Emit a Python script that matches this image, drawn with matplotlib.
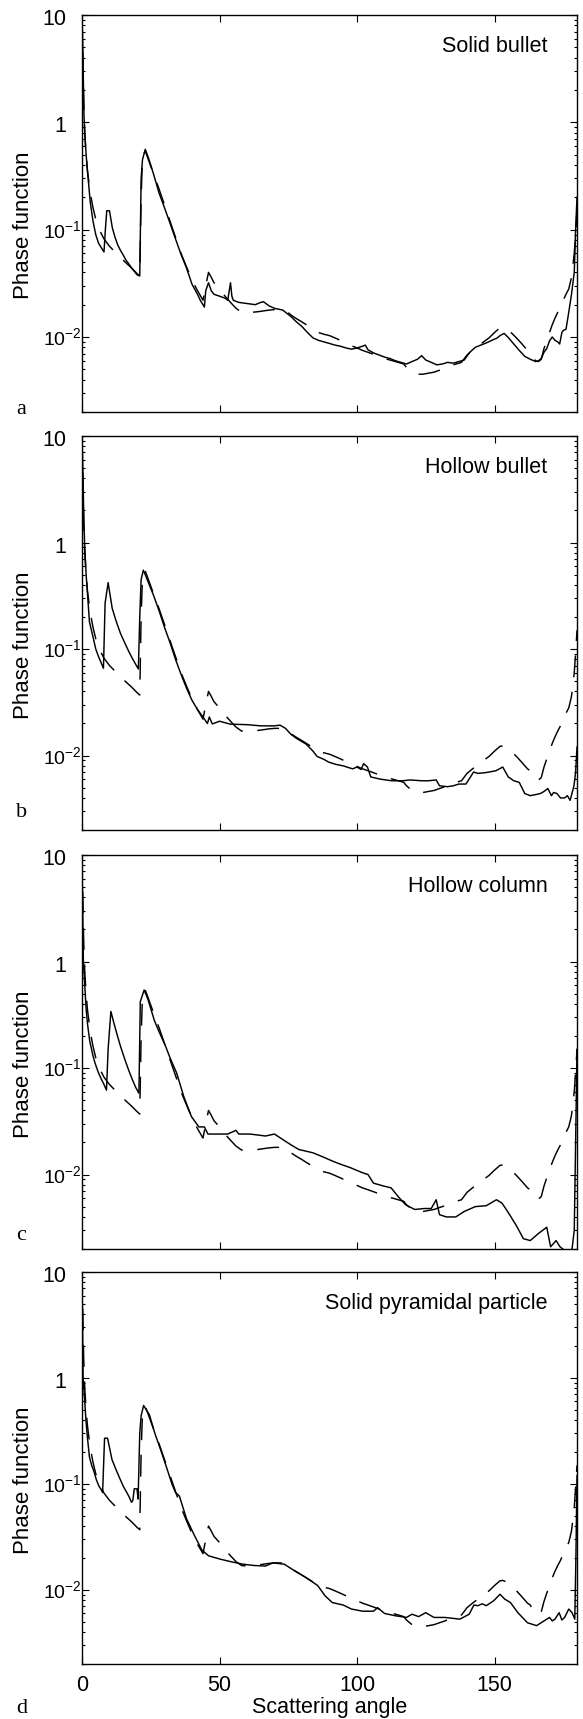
import matplotlib
matplotlib.use('Agg')
import matplotlib.pyplot as plt
from matplotlib.ticker import FixedLocator, FixedFormatter, LogLocator, NullFormatter
from matplotlib.transforms import offset_copy

plt.rcParams['font.family'] = ['Liberation Sans', 'DejaVu Sans']
plt.rcParams['mathtext.fontset'] = 'custom'
plt.rcParams['mathtext.rm'] = 'Liberation Sans'
plt.rcParams['mathtext.it'] = 'Liberation Sans:italic'

# ---------------- data ----------------
# dashed reference curve (same in all four panels)
angle_ref = [0, 0.3, 0.6, 1, 1.5, 2, 3, 4, 5, 6, 7, 8, 10, 12, 14, 16, 18, 20, 21, 21.5,
             22, 23, 24, 26, 28, 30, 32, 34, 36, 38, 40, 42, 44, 45, 46, 47, 48, 50, 52, 54,
             56, 58, 60, 62, 64, 66, 68, 70, 72, 74, 76, 78, 80, 82, 84, 86, 88, 90, 92, 94,
             96, 98, 100, 102, 104, 106, 108, 110, 112, 114, 116, 117, 118, 120, 122, 124, 126, 128, 130, 132,
             134, 136, 138, 140, 142, 144, 146, 148, 150, 152, 153, 154, 156, 158, 160, 162, 163, 164, 165, 166,
             167, 168, 169, 170, 171, 172, 173, 174, 175, 176, 177, 178, 179, 179.6, 180]
phase_ref = [10, 4, 1.6, 0.8, 0.5, 0.35, 0.22, 0.16, 0.125, 0.105, 0.092, 0.082, 0.07, 0.062, 0.055, 0.049, 0.044, 0.039, 0.037, 0.2,
             0.48, 0.54, 0.46, 0.33, 0.24, 0.17, 0.12, 0.085, 0.06, 0.045, 0.034, 0.027, 0.022, 0.03, 0.04, 0.036, 0.032, 0.028, 0.024, 0.021,
             0.0185, 0.017, 0.0168, 0.017, 0.0172, 0.0175, 0.0178, 0.018, 0.018, 0.0178, 0.016, 0.0148, 0.0138, 0.0128, 0.0119, 0.011, 0.0106, 0.0103, 0.0098, 0.0093,
             0.0088, 0.0083, 0.0079, 0.0075, 0.0072, 0.0069, 0.0066, 0.0063, 0.0061, 0.0059, 0.0057, 0.0056, 0.0052, 0.0047, 0.0045, 0.0045, 0.0046, 0.0047, 0.0049, 0.0051,
             0.0054, 0.0056, 0.0058, 0.0068, 0.0075, 0.0082, 0.009, 0.0098, 0.011, 0.0122, 0.0123, 0.012, 0.011, 0.0098, 0.0086, 0.0075, 0.0072, 0.0064, 0.006, 0.0059,
             0.0062, 0.0078, 0.0093, 0.011, 0.013, 0.015, 0.017, 0.019, 0.022, 0.025, 0.028, 0.036, 0.06, 0.1, 0.15]

# (a) solid bullet
angle_a = [0, 0.3, 0.7, 1, 1.5, 2, 3, 4, 5, 6, 7, 8, 8.5, 9, 10, 11, 12, 13, 14, 15,
           16, 17, 18, 19, 20, 21, 21.5, 22, 23, 24, 25, 26, 27, 28, 30, 32, 34, 36, 38, 40,
           42, 43, 44.5, 45, 46, 47, 48, 50, 52, 53, 54, 54.5, 55, 57, 60, 63, 65, 66, 68, 70,
           73, 76, 78, 80, 82, 84, 86, 88, 90, 92, 94, 96, 98, 100, 102, 103, 104, 106, 108, 110,
           112, 114, 116, 118, 120, 122, 123.5, 125, 127, 129, 131, 133, 135, 137, 139, 141, 143, 145, 147, 149,
           151, 152, 153.5, 155, 157, 159, 161, 163, 165, 166, 167, 168, 169, 170, 171, 172, 173, 173.7, 174.5, 175,
           176, 177, 178, 179, 179.5, 180]
phase_a = [10, 5, 1.2, 0.8, 0.5, 0.35, 0.18, 0.12, 0.09, 0.075, 0.068, 0.062, 0.1, 0.15, 0.15, 0.105, 0.085, 0.072, 0.064, 0.058,
           0.052, 0.048, 0.044, 0.041, 0.038, 0.037, 0.3, 0.45, 0.56, 0.48, 0.4, 0.33, 0.27, 0.22, 0.16, 0.115, 0.082, 0.059, 0.044, 0.031,
           0.025, 0.022, 0.019, 0.027, 0.032, 0.027, 0.025, 0.024, 0.023, 0.022, 0.032, 0.024, 0.022, 0.021, 0.0205, 0.02, 0.021, 0.0213, 0.0195, 0.0185,
           0.0178, 0.0155, 0.0138, 0.0125, 0.011, 0.0098, 0.0093, 0.009, 0.0087, 0.0084, 0.0082, 0.0079, 0.0077, 0.0079, 0.0082, 0.0084, 0.0076, 0.0071, 0.0068, 0.0065,
           0.0063, 0.006, 0.0058, 0.0056, 0.0059, 0.0062, 0.0067, 0.0061, 0.0058, 0.0055, 0.0056, 0.0058, 0.0057, 0.0059, 0.0061, 0.0072, 0.008, 0.0084, 0.0088, 0.0093,
           0.0098, 0.0103, 0.0108, 0.0099, 0.0086, 0.0075, 0.0066, 0.0062, 0.0059, 0.006, 0.0063, 0.0072, 0.0078, 0.0092, 0.01, 0.0093, 0.009, 0.0086, 0.011, 0.0115,
           0.0118, 0.017, 0.025, 0.04, 0.1, 0.2]

# (b) hollow bullet
angle_b = [0, 0.3, 0.7, 1, 1.5, 2, 2.7, 4, 5, 6, 7, 7.8, 8.4, 9.5, 11, 12.5, 14, 15.5, 17, 18.5,
           19.5, 20.5, 21, 21.5, 22.3, 23, 24, 26, 28, 30, 32, 34, 36, 38, 40, 42, 44, 45.6, 46.3, 47.4,
           50, 54, 60, 65, 70, 72, 74, 76, 78, 81.5, 84, 85.5, 88, 89.6, 92, 95, 98.4, 100, 101.5, 102.4,
           103.8, 105, 108.5, 112.6, 116.6, 119.4, 123.4, 126, 128.8, 130, 132.9, 135, 137, 139.6, 142.4, 144, 146.5, 148, 150.5, 153,
           155, 157, 159, 161, 163, 165, 166.7, 168, 169.4, 170.7, 171.5, 172.7, 174, 175.5, 176.5, 177.5, 178.9, 179.5, 180]
phase_b = [10, 5, 1.5, 0.9, 0.5, 0.33, 0.18, 0.13, 0.1, 0.085, 0.074, 0.066, 0.27, 0.42, 0.24, 0.18, 0.14, 0.115, 0.095, 0.08,
           0.072, 0.065, 0.2, 0.45, 0.55, 0.5, 0.43, 0.32, 0.23, 0.16, 0.115, 0.08, 0.058, 0.043, 0.033, 0.027, 0.023, 0.02, 0.023, 0.0198,
           0.021, 0.0197, 0.0195, 0.019, 0.019, 0.0193, 0.018, 0.0158, 0.0145, 0.0128, 0.011, 0.0098, 0.0092, 0.0087, 0.0083, 0.008, 0.0075, 0.0078, 0.0074, 0.0084,
           0.0078, 0.0063, 0.006, 0.0058, 0.0058, 0.0059, 0.0058, 0.0058, 0.0059, 0.0052, 0.0051, 0.0052, 0.0054, 0.0054, 0.007, 0.0068, 0.0069, 0.007, 0.0072, 0.0078,
           0.0063, 0.0058, 0.0056, 0.0044, 0.0042, 0.0043, 0.0044, 0.0046, 0.0049, 0.0042, 0.0045, 0.0044, 0.004, 0.004, 0.0042, 0.0038, 0.0052, 0.007, 0.012]

# (c) hollow column
angle_c = [0, 0.5, 1, 1.5, 2, 2.8, 4, 4.8, 6, 6.9, 8, 8.9, 9.5, 10.5, 11.5, 12.9, 14, 15.6, 17, 18.3,
           19.5, 20.7, 21.2, 22.6, 24, 26.3, 28, 30.4, 32, 34.4, 37, 39.8, 42.5, 44.5, 45.8, 49, 53, 56, 57, 61,
           64, 66.7, 70, 73.4, 76, 78.8, 84, 88, 91, 94, 97.6, 102, 104, 106, 109.7, 112.4, 115, 117.7, 121, 124.5,
           127, 128.8, 130, 132.5, 135.9, 139, 143, 147, 150.7, 152.7, 155, 158, 160.5, 163, 166, 169, 170.4, 172.4, 173.8, 176,
           178, 179, 179.5, 180]
phase_c = [10, 1, 0.6, 0.36, 0.26, 0.18, 0.13, 0.11, 0.09, 0.08, 0.07, 0.062, 0.15, 0.34, 0.27, 0.2, 0.16, 0.12, 0.095, 0.078,
           0.066, 0.058, 0.42, 0.54, 0.44, 0.28, 0.22, 0.16, 0.125, 0.09, 0.054, 0.035, 0.028, 0.028, 0.024, 0.024, 0.024, 0.026, 0.024, 0.024,
           0.0235, 0.023, 0.024, 0.021, 0.019, 0.0172, 0.016, 0.0145, 0.0134, 0.0125, 0.0116, 0.0104, 0.01, 0.0083, 0.0078, 0.0075, 0.0062, 0.0052, 0.0047, 0.0048,
           0.0048, 0.0058, 0.0042, 0.004, 0.004, 0.0045, 0.005, 0.0051, 0.0058, 0.0054, 0.0044, 0.0033, 0.0025, 0.0024, 0.0028, 0.0032, 0.0021, 0.0024, 0.0021, 0.0019,
           0.0018, 0.003, 0.02, 0.15]

# (d) solid pyramidal particle
angle_d = [0, 0.4, 1, 1.4, 2, 2.7, 3.5, 4.4, 5.2, 6.1, 7, 7.5, 8.2, 9.3, 10.9, 12.2, 13.6, 15, 16.3, 17.2,
           18, 18.5, 19, 20, 20.4, 21, 21.5, 22.4, 24.5, 26.5, 28.6, 30.5, 32.7, 34, 35.4, 38, 40.8, 43.5, 46, 50.3,
           54.4, 58.5, 62.6, 66.7, 69.4, 71, 73.5, 77.6, 81.6, 85.7, 88.4, 91, 95, 98, 102, 106, 107.5, 110, 114, 118,
           120, 122.4, 125, 128, 132, 137.4, 140.8, 142.5, 144, 145.5, 147, 149.7, 152, 153.7, 155.8, 158.5, 162, 165.3, 168, 170,
           171, 172, 173.5, 174.5, 175.5, 177, 178.2, 179.2, 179.6, 180]
phase_d = [10, 1, 0.6, 0.41, 0.27, 0.18, 0.15, 0.13, 0.11, 0.096, 0.088, 0.083, 0.27, 0.27, 0.17, 0.14, 0.115, 0.095, 0.083, 0.075,
           0.067, 0.07, 0.09, 0.09, 0.072, 0.3, 0.44, 0.55, 0.45, 0.3, 0.21, 0.15, 0.1, 0.083, 0.077, 0.047, 0.033, 0.024, 0.021, 0.0195,
           0.0184, 0.0175, 0.017, 0.0168, 0.018, 0.0178, 0.0175, 0.015, 0.013, 0.011, 0.0088, 0.0076, 0.0072, 0.0066, 0.0063, 0.0063, 0.0068, 0.006, 0.0057, 0.0055,
           0.0059, 0.0056, 0.0061, 0.0055, 0.0055, 0.0053, 0.0059, 0.0072, 0.0071, 0.0074, 0.0071, 0.0079, 0.0091, 0.0082, 0.0076, 0.0061, 0.0049, 0.0046, 0.0051, 0.0055,
           0.0051, 0.0053, 0.0061, 0.0052, 0.0055, 0.0066, 0.0061, 0.0053, 0.02, 0.12]

panel_titles = ['Solid bullet', 'Hollow bullet', 'Hollow column', 'Solid pyramidal particle']
panel_letters = ['a', 'b', 'c', 'd']
xtick_values = [0, 50, 100, 150]
xtick_labels = ['0', '50', '100', '150']
ytick_values = [0.01, 0.1, 1, 10]
ytick_labels = ['10$^{-2}$', '10$^{-1}$', '1', '10']

solid_angles = [angle_a, angle_b, angle_c, angle_d]
solid_phases = [phase_a, phase_b, phase_c, phase_d]

# ---------------- layout ----------------
W, H = 583, 1719
fig = plt.figure(figsize=(W / 100, H / 100), dpi=100)
left_px, right_px = 82, 577
panels_px = [(15, 412), (436, 830), (855, 1249), (1272, 1664)]
letter_base_px = [414, 817, 1240, 1713]
lab_right_px = 66   # right edge of plain labels ("10", "1")
lab_left_px = 43    # left edge of power labels

for i, (top, bot) in enumerate(panels_px):
    ax = fig.add_axes([left_px / W, 1 - bot / H, (right_px - left_px) / W, (bot - top) / H])
    ax.plot(angle_ref, phase_ref, color='black', lw=1.05, dashes=(15, 10))
    ax.plot(solid_angles[i], solid_phases[i], color='black', lw=1.05)
    ax.set_yscale('log')
    ax.set_xlim(0, 180)
    ax.set_ylim(0.002, 10)
    ax.yaxis.set_major_locator(FixedLocator(ytick_values))
    ax.yaxis.set_major_formatter(NullFormatter())
    ax.yaxis.set_minor_locator(LogLocator(base=10, subs=range(2, 10), numticks=20))
    ax.yaxis.set_minor_formatter(NullFormatter())
    ax.xaxis.set_major_locator(FixedLocator(xtick_values))
    ax.tick_params(which='both', direction='in', top=True, right=True, width=0.8)
    ax.tick_params(which='major', length=5, labelsize=15.5, pad=8)
    ax.tick_params(which='minor', length=2.5)
    for sp in ax.spines.values():
        sp.set_linewidth(1.0)

    # y tick labels, Matlab style: powers left-aligned, plain numbers right-aligned
    ptrans = offset_copy(ax.get_yaxis_transform(), fig=fig, y=-5.8, units='points')
    ntrans = offset_copy(ax.get_yaxis_transform(), fig=fig, y=-7.3, units='points')
    for val, lab in zip(ytick_values, ytick_labels):
        if '$' in lab:
            ax.text((lab_left_px - left_px) / (right_px - left_px), val, lab,
                    transform=ptrans, ha='left', va='baseline', fontsize=14)
        else:
            ax.text((lab_right_px - left_px) / (right_px - left_px), val, lab,
                    transform=ntrans, ha='right', va='baseline', fontsize=15.5)

    if i < 3:
        ax.set_xticklabels([])
    else:
        ax.xaxis.set_major_formatter(FixedFormatter(xtick_labels))
        ax.set_xlabel('Scattering angle', fontsize=15.5, labelpad=1)
        ax.xaxis.set_label_coords(0.5, -0.085)
    ax.set_ylabel('Phase function', fontsize=16, va='center')
    ax.yaxis.set_label_coords((24 - left_px) / (right_px - left_px), 0.47)
    ax.text(0.94, 0.92, panel_titles[i], transform=ax.transAxes,
            ha='right', va='center', fontsize=15.5)
    fig.text(16 / W, 1 - letter_base_px[i] / H, panel_letters[i],
             family=['Liberation Serif', 'DejaVu Serif'], fontsize=16,
             ha='left', va='baseline')

fig.savefig('out.png', dpi=100)
